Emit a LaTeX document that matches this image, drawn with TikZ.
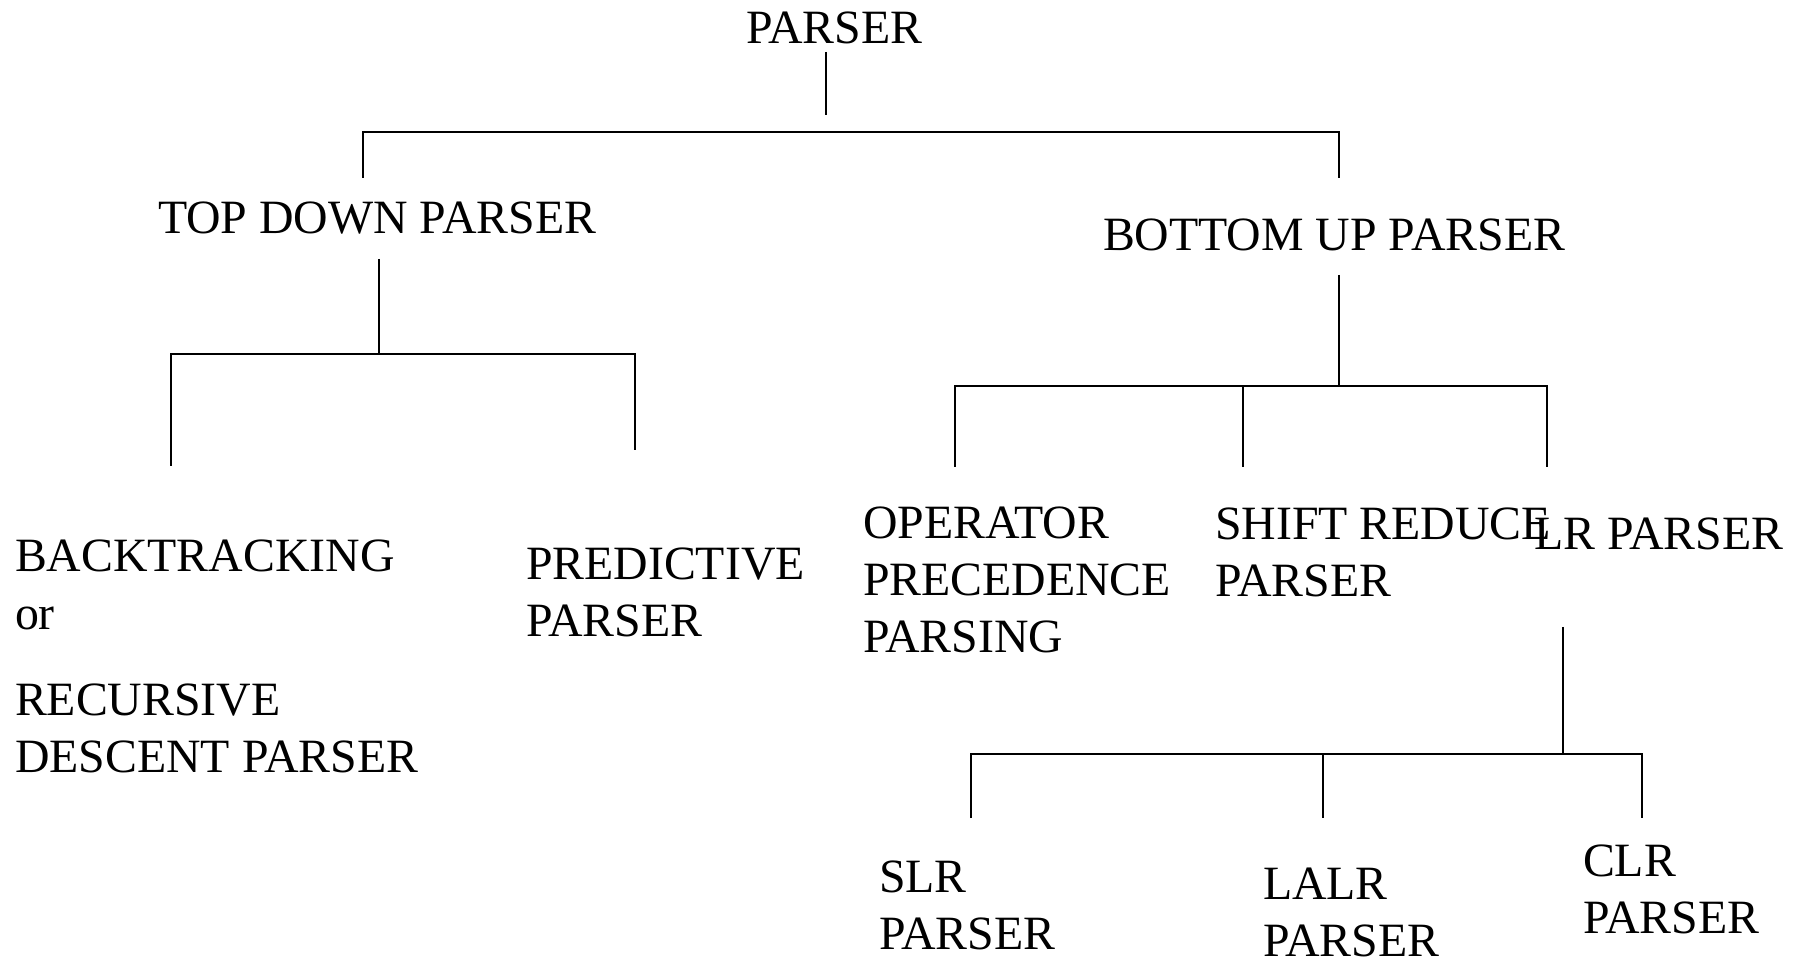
\documentclass[tikz,border=0pt]{standalone}
\usepackage{fontspec}
\setmainfont{Liberation Serif}
\begin{document}
\begin{tikzpicture}[x=0.5pt,y=-0.5pt,
  lbl/.style={anchor=base west, inner sep=0pt, outer sep=0pt, align=left,
              font=\fontsize{23.9}{28.5}\selectfont},
  link/.style={line width=1.05pt, black}]
\useasboundingbox (0,0) rectangle (1800,967);

% ---- labels (placed at the baseline of their last line) ----
\node[lbl] (parser) at (746,44)  {PARSER};
\node[lbl] (td)     at (158,234) {TOP DOWN PARSER};
\node[lbl] (bu)     at (1103,251) {BOTTOM UP PARSER};
\node[lbl] (bt)     at (15,773)  {BACKTRACKING\\or\\[15pt]RECURSIVE\\DESCENT PARSER};
\node[lbl] (pred)   at (526,637) {PREDICTIVE\\PARSER};
\node[lbl] (opp)    at (863,653) {OPERATOR\\PRECEDENCE\\PARSING};
\node[lbl] (sr)     at (1215,597) {SHIFT REDUCE\\PARSER};
\node[lbl] (lr)     at (1534,550) {LR PARSER};
\node[lbl] (slr)    at (879,949) {SLR\\PARSER};
\node[lbl] (lalr)   at (1263,956) {LALR\\PARSER};
\node[lbl] (clr)    at (1583,933) {CLR\\PARSER};

% ---- connector end points ----
% root
\coordinate (rootA) at (826,52);
\coordinate (rootB) at (826,115);
\coordinate (rootL) at (363,132);
\coordinate (rootR) at (1339,132);
\coordinate (tdIn)  at (363,178);
\coordinate (buIn)  at (1339,178);
% top down
\coordinate (tdA)   at (379,259);
\coordinate (tdJ)   at (379,354);
\coordinate (tdL)   at (171,354);
\coordinate (tdR)   at (635,354);
\coordinate (btIn)  at (171,466);
\coordinate (predIn) at (635,450);
% bottom up
\coordinate (buA)   at (1339,275);
\coordinate (buJ)   at (1339,386);
\coordinate (buL)   at (955,386);
\coordinate (buM)   at (1243,386);
\coordinate (buR)   at (1547,386);
\coordinate (oppIn) at (955,467);
\coordinate (srIn)  at (1243,467);
\coordinate (lrIn)  at (1547,467);
% LR
\coordinate (lrA)   at (1563,627);
\coordinate (lrJ)   at (1563,754);
\coordinate (lrL)   at (971,754);
\coordinate (lrM)   at (1323,754);
\coordinate (lrR)   at (1642,754);
\coordinate (slrIn) at (971,818);
\coordinate (lalrIn) at (1323,818);
\coordinate (clrIn) at (1642,818);

% ---- connectors ----
\draw[link] (rootA) -- (rootB);
\draw[link] (tdIn) -- (rootL) -- (rootR) -- (buIn);

\draw[link] (tdA) -- (tdJ);
\draw[link] (btIn) -- (tdL) -- (tdR) -- (predIn);

\draw[link] (buA) -- (buJ);
\draw[link] (oppIn) -- (buL) -- (buR) -- (lrIn);
\draw[link] (buM) -- (srIn);

\draw[link] (lrA) -- (lrJ);
\draw[link] (slrIn) -- (lrL) -- (lrR) -- (clrIn);
\draw[link] (lrM) -- (lalrIn);
\end{tikzpicture}
\end{document}
